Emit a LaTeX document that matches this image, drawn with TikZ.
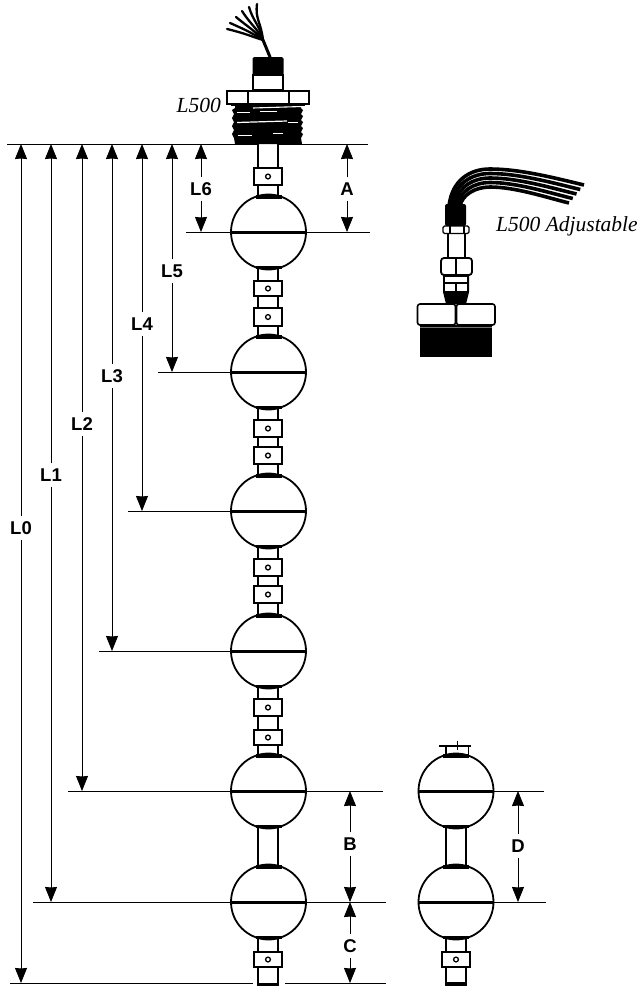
\documentclass[tikz,border=0pt]{standalone}
\usepackage{fontspec}
\setmainfont{Liberation Serif}
\setsansfont{Liberation Sans}
\usetikzlibrary{arrows.meta}
\tikzset{
  hw/.style={draw=black,line width=1.3pt,fill=white},
  ballnode/.style={circle,draw=black,line width=1.8pt,fill=white,minimum size=75pt,inner sep=0pt},
  leader/.style={draw=black,line width=0.9pt},
  dimarrow/.style={draw=black,line width=0.9pt,-{Stealth[length=15pt,width=12pt,inset=0.5pt]}},
  dimlab/.style={font=\sffamily\bfseries\fontsize{18.5}{18.5}\selectfont,inner xsep=1.5pt,inner ysep=5pt,outer sep=0pt,text height=13.5pt,text depth=0pt,text=black},
  itlab/.style={font=\itshape\fontsize{21.5}{22}\selectfont,inner sep=0pt,text=black},
  wire/.style={draw=black,line width=2.3pt,line cap=round},
  midline/.style={draw=black,line width=3pt},
}
\newcommand\stemseg[3]{%
  \fill[white] (#1-10,#2) rectangle (#1+10,#3);
  \draw[line width=2.4pt] (#1-10,#2) -- (#1-10,#3);
  \draw[line width=1.4pt] (#1+10,#2) -- (#1+10,#3);}
\newcommand\collar[3]{%
  \draw[hw] (#1-14,#2) rectangle (#1+14,#3);
  \draw[line width=1.3pt,fill=white] (#1,{(#2+#3)/2}) circle (2.4);}
\newcommand\floatball[3]{%
  \node[ballnode] (#1) at (#2,#3) {};
  \draw[midline] (#1.west) -- (#1.east);
  \fill (#2-13,#3-37) rectangle (#2+13,#3-33.5);
  \fill (#2-13,#3+33.5) rectangle (#2+13,#3+37);}
\newcommand\dimension[6]{%
  \coordinate (#1t) at (#2,#3);
  \coordinate (#1b) at (#2,#4);
  \node[dimlab] (#1l) at (#2,#5) {#6};
  \draw[dimarrow] (#1l) -- (#1t);
  \draw[dimarrow] (#1l) -- (#1b);}
\newcommand\refline[4]{%
  \coordinate (#1a) at (#2,#4);
  \coordinate (#1c) at (#3,#4);
  \draw[leader] (#1a) -- (#1c);}
\begin{document}
\begin{tikzpicture}[x=1pt,y=-1pt]
\useasboundingbox (0,0) rectangle (642,986);
\fill[white] (0,0) rectangle (642,986);

% reference lines
\refline{r0}{7}{368}{144}
\refline{r1}{186}{370}{232}
\refline{r2}{158}{240}{372}
\refline{r3}{128}{240}{511}
\refline{r4}{99}{240}{651}
\refline{r5}{68}{383}{791}
\refline{r6}{33}{386}{902}
\refline{r7}{10}{253}{983}
\refline{r8}{285}{386}{983}
\refline{r9}{490}{544}{791}
\refline{r10}{490}{546}{902}

% main column stems
\stemseg{268}{144}{197}
\stemseg{268}{267}{337}
\stemseg{268}{407}{476}
\stemseg{268}{546}{616}
\stemseg{268}{686}{757}
\stemseg{268}{827}{867}
\stemseg{268}{937}{986}
\fill (258,983) rectangle (278,986);

% collars
\collar{268}{168}{185}
\collar{268}{281}{296}
\collar{268}{308}{326}
\collar{268}{420}{437}
\collar{268}{447}{464}
\collar{268}{559}{576}
\collar{268}{586}{603}
\collar{268}{699}{716}
\collar{268}{730}{745}
\collar{268}{952}{967}

% balls
\floatball{b1}{268.5}{232}
\floatball{b2}{268.5}{372}
\floatball{b3}{268.5}{511}
\floatball{b4}{268.5}{651}
\floatball{b5}{268.5}{791}
\floatball{b6}{268.5}{902}

% right-hand column
\draw[line width=1.3pt] (439,746) -- (471,746);
\draw[line width=1.5pt] (446,746) -- (446,758);
\draw[line width=1pt] (468,746) -- (468,758);
\draw[line width=0.8pt] (457,741) -- (457,750);
\draw[line width=0.8pt,densely dotted] (450,757) -- (464,757);
\stemseg{456}{827}{867}
\stemseg{456}{937}{986}
\fill (446,982) rectangle (466,986);
\collar{456}{952}{967}
\floatball{b7}{456}{791}
\floatball{b8}{456}{902}

% L500 head: wires
\coordinate (hw) at (270,57);
\coordinate (hj) at (263,40);
\draw[wire,line width=3pt] (hw) -- (hj);
\foreach \ex/\ey/\cx/\cy in {227/29/250/36,230/23/252/33,236/17/254/30,242/11/257/28,249/7/259/24,257/4/261/22}{
  \draw[wire] (hj) .. controls (\cx,\cy) and (\cx-6,\cy-3) .. (\ex,\ey);
}
% neck
\draw[hw] (253,75) rectangle (283,90);
\fill[rounded corners=1.5pt] (252.5,57) rectangle (283.5,75);
% thread
\fill (235,104) -- (301,104) -- (301,108) -- (303,110) -- (301,114) -- (303,116) -- (301,120) -- (303,122)
  -- (301,126) -- (303,128) -- (301,132) -- (303,134) -- (301,138) -- (302,144)
  -- (235,144) -- (234,138) -- (232,134) -- (234,130) -- (232,126) -- (234,122) -- (232,118) -- (234,114) -- (232,110) -- (235,108) -- cycle;
\draw[white,line width=1.1pt] (253,108) -- (302,106.5);
\draw[white,line width=0.9pt] (237,112) -- (250,112);
\draw[white,line width=0.9pt] (260,111) -- (277,111);
\draw[white,line width=1.2pt] (237,122.5) -- (287,121);
\draw[white,line width=0.8pt] (288,122) -- (298,122);
\draw[white,line width=0.9pt] (238,135) -- (252,135);
\draw[white,line width=0.9pt] (273,133) -- (283,133);
% hex nut
\draw[hw,line width=1.6pt] (227,91) rectangle (309,104);
\draw[line width=1.6pt] (248,91) -- (248,104);
\draw[line width=1.6pt] (289,91) -- (289,104);
\draw[line width=2pt] (231,104.5) -- (305,104.5);

% L500 Adjustable: wires, interpolated between the bundle's two outer edges
\foreach \t in {0,0.25,0.5,0.75,1}{
  \draw[draw=black,line width=3.6pt,line cap=butt]
    ({449+11*\t},206) .. controls ({452+10*\t},{180+15*\t}) and ({470+5*\t},{169+18*\t}) .. (490,{169+18*\t})
    .. controls ({520-5*\t},{169+18*\t}) and ({555-10*\t},{178+19*\t}) .. ({584-15*\t},{185+18*\t});
}
% stem and nuts
\fill[rounded corners=2pt] (445,204) rectangle (466,226);
\draw[hw,line width=1.8pt] (448,233) rectangle (465,258);
\draw[hw,rounded corners=1.5pt] (443,226) rectangle (469,233.5);
\draw[line width=1.4pt] (450,226) -- (450,233.5);
\draw[line width=1.4pt] (464,226) -- (464,233.5);
\fill (443,274) -- (469,274) -- (469,292) -- (466,304) -- (446,304) -- (443,292) -- cycle;
\fill[white] (445,276.5) rectangle (467,281.5);
\draw[hw,rounded corners=3pt,line width=1.8pt] (441,258) rectangle (472,275);
\draw[line width=2pt] (456,258) -- (456,275);
\fill[white] (445,284) rectangle (455,290.5);
\fill[white] (457,284) rectangle (467,290.5);
% big hex and thread
\fill (420,325) rectangle (492,357);
\fill[black!55] (420,326.5) rectangle (492,328);
\draw[hw,rounded corners=2.5pt,line width=1.6pt] (417.5,304) rectangle (455.5,325);
\draw[hw,rounded corners=2.5pt,line width=1.6pt] (456.5,304) rectangle (495,325);

% dimensions
\dimension{L0}{21}{144}{983}{528}{L0}
\dimension{L1}{51}{144}{902}{475}{L1}
\dimension{L2}{82}{144}{791}{424}{L2}
\dimension{L3}{112}{144}{651}{376}{L3}
\dimension{L4}{142}{144}{511}{324}{L4}
\dimension{L5}{172}{144}{372}{271}{L5}
\dimension{L6}{201}{144}{232}{189}{L6}
\dimension{A}{347}{144}{232}{189}{A}
\dimension{B}{350}{791}{902}{844}{B}
\dimension{C}{350}{902}{983}{946}{C}
\dimension{D}{518}{791}{902}{846}{D}

% italic labels
\node[itlab,anchor=east] (t1) at (221,105) {L500};
\node[itlab,anchor=west] (t2) at (496,226) {L500 Adjustable};
\end{tikzpicture}
\end{document}
